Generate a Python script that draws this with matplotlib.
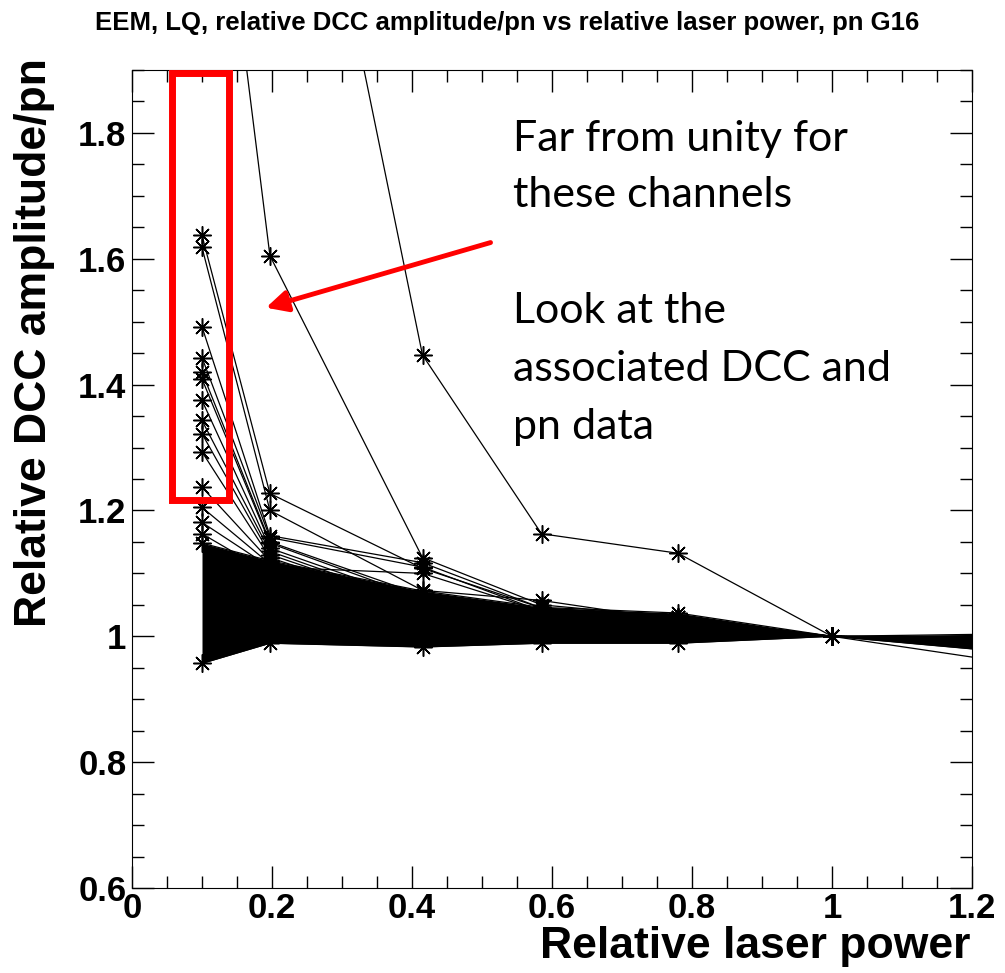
import matplotlib
matplotlib.use("Agg")
import matplotlib.pyplot as plt
from matplotlib.ticker import MultipleLocator, FuncFormatter
from matplotlib.patches import Rectangle

# relative laser power steps (last one lies beyond the x range)
laser_power = [0.1, 0.197, 0.415, 0.585, 0.78, 1.0, 1.4]

# envelope of the dense bulk of channels
band_low = [0.957, 0.989, 0.983, 0.989, 0.989, 1.0, 0.96]
band_high = [1.148, 1.12, 1.072, 1.046, 1.037, 1.0, 1.006]

# individual channels that stand out from the bulk
outlier_channels = [
    [2.47, 1.605, 1.125, 1.05, 1.03, 1.0, 0.99],
    [3.20, 2.63, 1.447, 1.163, 1.132, 1.0, 0.934],
    [1.637, 1.227, 1.108, 1.045, 1.03, 1.0, 0.995],
    [1.618, 1.20, 1.073, 1.057, 1.025, 1.0, 0.998],
    [1.492, 1.16, 1.117, 1.045, 1.03, 1.0, 0.995],
    [1.443, 1.157, 1.11, 1.04, 1.02, 1.0, 1.0],
    [1.420, 1.15, 1.065, 1.04, 1.02, 1.0, 0.99],
    [1.409, 1.148, 1.06, 1.035, 1.02, 1.0, 0.99],
    [1.375, 1.14, 1.055, 1.03, 1.02, 1.0, 0.99],
    [1.343, 1.135, 1.05, 1.03, 1.02, 1.0, 0.99],
    [1.322, 1.13, 1.048, 1.025, 1.015, 1.0, 0.99],
    [1.293, 1.125, 1.045, 1.02, 1.015, 1.0, 0.99],
    [1.237, 1.12, 1.04, 1.02, 1.01, 1.0, 0.99],
    [1.205, 1.115, 1.035, 1.02, 1.01, 1.0, 0.99],
    [1.181, 1.11, 1.10, 1.04, 1.02, 1.0, 0.99],
    [1.163, 1.10, 1.03, 1.02, 1.01, 1.0, 0.99],
]

title = "EEM, LQ, relative DCC amplitude/pn vs relative laser power, pn G16"
note_top = ["Far from unity for", "these channels"]
note_bottom = ["Look at the", "associated DCC and", "pn data"]

W, H = 1005, 973
fig = plt.figure(figsize=(W / 100, H / 100), dpi=100)
ax = fig.add_axes([132 / W, 85 / H, 840 / W, 818 / H])

star = (8, 2, 0)
ax.fill_between(laser_power, band_low, band_high, color="black", lw=0)
for ch in [band_low, band_high] + outlier_channels:
    ax.plot(laser_power, ch, color="black", lw=0.9, marker=star,
            markersize=13, markeredgewidth=1.1)

ax.set_xlim(0, 1.2)
ax.set_ylim(0.6, 1.9)
ax.xaxis.set_major_locator(MultipleLocator(0.2))
ax.xaxis.set_minor_locator(MultipleLocator(0.05))
ax.yaxis.set_major_locator(MultipleLocator(0.2))
ax.yaxis.set_minor_locator(MultipleLocator(0.05))
fmt = FuncFormatter(lambda v, p: "%g" % round(v, 2))
ax.xaxis.set_major_formatter(fmt)
ax.yaxis.set_major_formatter(fmt)
ax.tick_params(which="both", direction="in", top=True, right=True, width=1)
ax.tick_params(which="major", length=16)
ax.tick_params(which="minor", length=8.5)
ax.tick_params(axis="y", pad=4)
ax.tick_params(axis="x", pad=3)
for lab in ax.get_xticklabels() + ax.get_yticklabels():
    lab.set_fontfamily("Liberation Sans")
    lab.set_fontweight("bold")
    lab.set_fontsize(25)

fig.text(507 / W, 1 - 23 / H, title, ha="center", va="center",
         family="Liberation Sans", weight="bold", fontsize=18.5)
fig.text(970 / W, 1 - 958 / H, "Relative laser power", ha="right",
         va="baseline", family="Liberation Sans", weight="bold", fontsize=32)
fig.text(35 / W, 1 - 58 / H, "Relative DCC amplitude/pn", rotation=90,
         ha="center", va="top", family="Liberation Sans", weight="bold",
         fontsize=32)

# annotations
ax.add_patch(Rectangle((0.0569, 1.216), 0.0811, 0.68, fill=False,
                       ec="#ff0000", lw=5, clip_on=False, zorder=5))
ax.annotate("", xy=(0.1876, 1.521), xytext=(0.516, 1.627),
            arrowprops=dict(arrowstyle="-|>", color="#ff0000", lw=3.5,
                            mutation_scale=32), zorder=5)
for i, line in enumerate(note_top):
    fig.text(513 / W, 1 - (151 + 56 * i) / H, line, ha="left",
             va="baseline", family="Lato", fontsize=31)
for i, line in enumerate(note_bottom):
    fig.text(513 / W, 1 - (323 + 58 * i) / H, line, ha="left",
             va="baseline", family="Lato", fontsize=31)

fig.savefig("out.png", dpi=100)
